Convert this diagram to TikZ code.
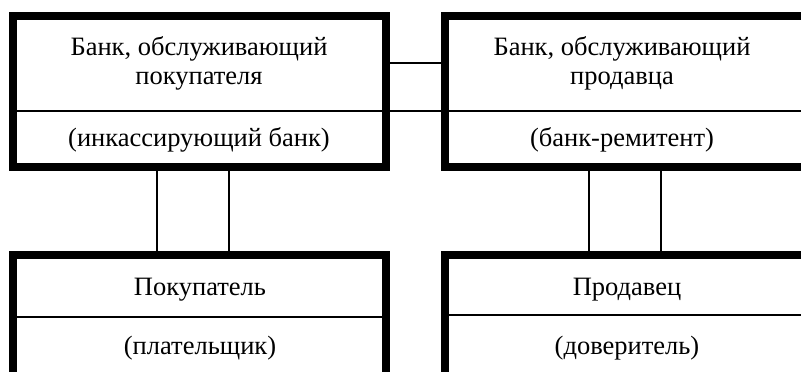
\documentclass[tikz,border=0pt]{standalone}
\usepackage{fontspec}
\setmainfont{Liberation Serif}
\begin{document}
\begin{tikzpicture}[x=1pt,y=-1pt,
  bigbox/.style={draw, line width=8pt, rectangle, inner sep=0pt, outer sep=0pt},
  thin/.style={line width=1.6pt},
  lbl/.style={font=\fontsize{26.5}{29}\selectfont, align=center, inner sep=0pt}]
\useasboundingbox (0,0) rectangle (801,372);
\clip (0,0) rectangle (801,372);
% boxes
\node[bigbox, minimum width=373pt, minimum height=151pt] (tl) at (199.5,91.5) {};
\node[bigbox, minimum width=362pt, minimum height=151pt] (tr) at (626,91.5) {};
\node[bigbox, minimum width=373pt, minimum height=126pt] (bl) at (199.5,317.5) {};
\node[bigbox, minimum width=362pt, minimum height=126pt] (br) at (626,317.5) {};
% dividers
\draw[thin] (tl.west |- 0,111) -- (tr.east |- 0,111);
\draw[thin] (bl.west |- 0,317) -- (bl.east |- 0,317);
\draw[thin] (br.west |- 0,315) -- (br.east |- 0,315);
% connectors
\coordinate (c1) at (386,63);
\draw[thin] (tl.east |- c1) -- (tr.west |- c1);
\draw[thin] (tl.south -| 157,0) -- (bl.north -| 157,0);
\draw[thin] (tl.south -| 229,0) -- (bl.north -| 229,0);
\draw[thin] (tr.south -| 589,0) -- (br.north -| 589,0);
\draw[thin] (tr.south -| 661,0) -- (br.north -| 661,0);
% texts
\node[lbl] (t1) at (199,63) {Банк, обслуживающий\\покупателя};
\node[lbl] (t2) at (199,140) {(инкассирующий банк)};
\node[lbl] (t3) at (622,63) {Банк, обслуживающий\\продавца};
\node[lbl] (t4) at (622,140) {(банк-ремитент)};
\node[lbl] (t5) at (200,290) {Покупатель};
\node[lbl] (t6) at (200,348) {(плательщик)};
\node[lbl] (t7) at (627,290) {Продавец};
\node[lbl] (t8) at (627,348) {(доверитель)};
\end{tikzpicture}
\end{document}
